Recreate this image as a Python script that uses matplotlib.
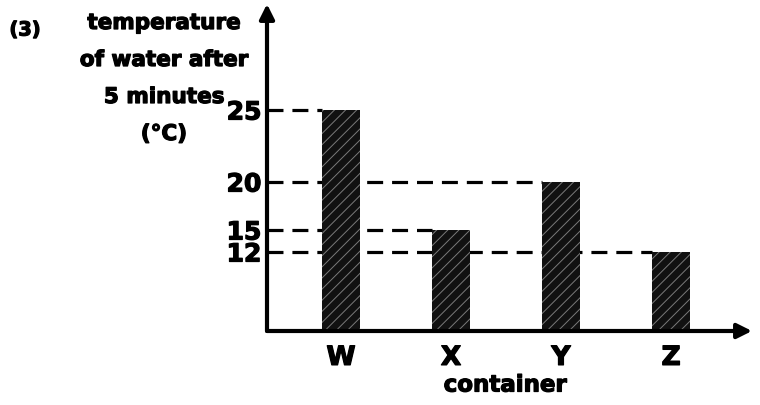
import numpy as np
import matplotlib
matplotlib.use('Agg')
import matplotlib.pyplot as plt
import matplotlib.patheffects as pe

# data
containers = ['W', 'X', 'Y', 'Z']
temps = [25, 15, 20, 12]
tick_vals = [12, 15, 20, 25]

# the hand-drawn axis is not linear: value -> height (px above x-axis)
knot_vals = np.array([0, 12, 15, 20, 25, 40])
knot_pix = np.array([0, 79, 101, 149, 221, 437])

def fwd(v):
    return np.interp(v, knot_vals, knot_pix)

def inv(p):
    return np.interp(p, knot_pix, knot_vals)

plt.rcParams['hatch.linewidth'] = 0.7
heavy = [pe.withStroke(linewidth=0.9, foreground='k')]

fig = plt.figure(figsize=(7.6, 4.06), dpi=100)
ax = fig.add_axes([267/760, 74/406, 485/760, 327/406])
ax.set_yscale('function', functions=(fwd, inv))

x = np.arange(len(containers))
w = 0.34
ax.set_xlim(-0.673, 3.736)
ax.set_ylim(0, inv(327))

# dashed guide lines from the axis to each bar
for xi, t in zip(x, temps):
    ax.plot([-0.673, xi - w/2], [t, t], color='k', lw=2.3,
            linestyle=(0, (5, 2.8)), zorder=1, clip_on=False)

ax.bar(x, temps, width=w, color='#111111', edgecolor='#7a7a7a',
       hatch='///', linewidth=0, zorder=2)

for s in ax.spines.values():
    s.set_visible(False)

ax.set_yticks(tick_vals)
ax.set_yticklabels([str(v) for v in tick_vals], fontsize=18, fontweight='bold',
                   path_effects=heavy)
ax.set_xticks(x)
ax.set_xticklabels(containers, fontsize=19, fontweight='bold', path_effects=heavy)
ax.tick_params(length=0)
ax.tick_params(axis='y', pad=4)
ax.tick_params(axis='x', pad=10)

# axes with arrow heads
ax.annotate('', xy=(0, 1.0), xytext=(0, 0), xycoords='axes fraction',
            arrowprops=dict(arrowstyle='-|>', lw=3, color='k',
                            mutation_scale=22, shrinkA=0, shrinkB=0))
ax.annotate('', xy=(1.0, 0), xytext=(0, 0), xycoords='axes fraction',
            arrowprops=dict(arrowstyle='-|>', lw=3, color='k',
                            mutation_scale=22, shrinkA=0, shrinkB=0))

fig.text(505/760, 1 - 386/406, 'container', ha='center', va='center',
         fontsize=16.5, fontweight='bold', path_effects=heavy)
fig.text(25/760, 1 - 31/406, '(3)', ha='center', va='center',
         fontsize=14, fontweight='bold', path_effects=heavy)

ylab = ['temperature', 'of water after', '5 minutes', '(°C)']
for i, line in enumerate(ylab):
    fig.text(164/760, 1 - (24 + 37*i)/406, line, ha='center', va='center',
             fontsize=15.5, fontweight='bold', path_effects=heavy)

fig.savefig('out.png', dpi=100)
